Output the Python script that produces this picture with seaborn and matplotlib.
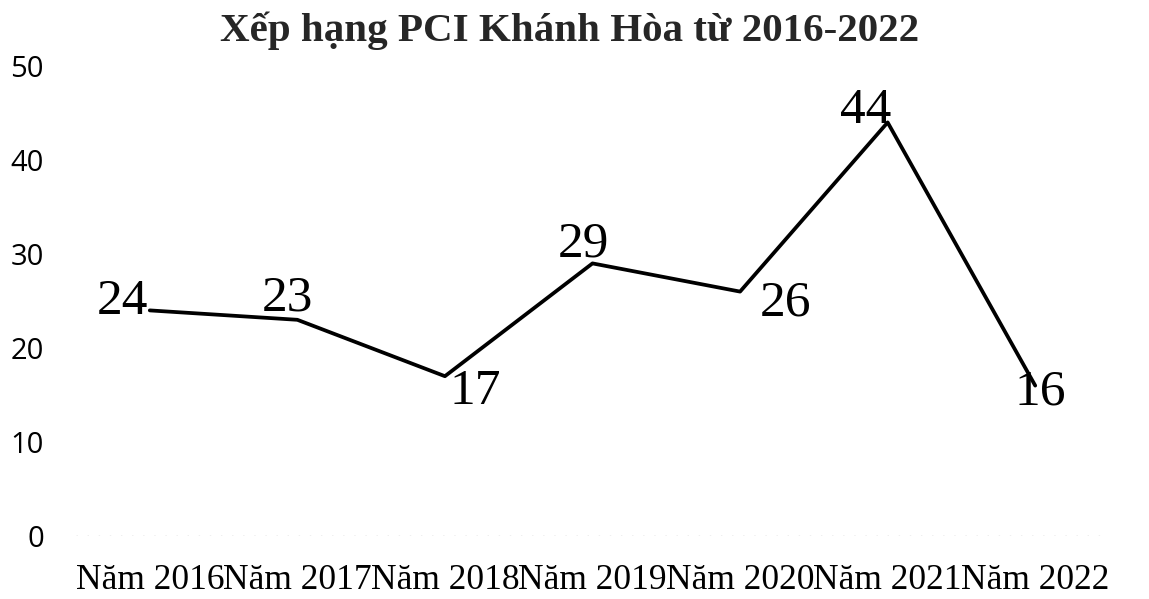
import matplotlib
matplotlib.use("Agg")
import matplotlib.pyplot as plt
import seaborn as sns
import pandas as pd

categories = ["Năm 2016", "Năm 2017", "Năm 2018", "Năm 2019", "Năm 2020", "Năm 2021", "Năm 2022"]
ranks = [24, 23, 17, 29, 26, 44, 16]
y_ticks = [0, 10, 20, 30, 40, 50]
title = "Xếp hạng PCI Khánh Hòa từ 2016-2022"

# label offsets in pixels (style only)
label_offsets = [(-2, 9), (-10, 22), (30, -16), (-9, 19), (45, -12), (-22, 12), (5, -7)]

sns.set_theme(style="white")
plt.rcParams['font.family'] = ['Liberation Serif', 'DejaVu Serif']

df = pd.DataFrame({"year": categories, "rank": ranks})

fig = plt.figure(figsize=(11.49, 5.99), dpi=100)
ax = fig.add_axes([76/1149, 1 - 536/599, (1109-76)/1149, (536-66)/599])

sns.lineplot(data=df, x="year", y="rank", ax=ax, color="black", linewidth=2.7, sort=False)

ax.set_ylim(0, 50)
ax.set_xlim(-0.5, len(categories) - 0.5)
ax.set_yticks(y_ticks)
ax.set_yticklabels([str(t) for t in y_ticks], fontfamily="Open Sans", fontsize=21, color="black")
ax.set_xticks(range(len(categories)))
ax.set_xticklabels(categories, fontfamily="Liberation Serif", fontsize=25.5, color="black")
ax.tick_params(axis="y", length=0, pad=23)
ax.tick_params(axis="x", length=0, pad=20)
ax.set_xlabel("")
ax.set_ylabel("")
for s in ax.spines.values():
    s.set_visible(False)
ax.axhline(0, color="#b0b0b0", linewidth=1, linestyle=(0, (1, 7)))

for i, (v, off) in enumerate(zip(ranks, label_offsets)):
    ax.annotate(str(v), (i, v), xytext=off, textcoords="offset pixels",
                ha="center", va="center", fontsize=37, fontfamily="Liberation Serif", color="black")
# first label right-aligned at point
ax.texts[0].set_horizontalalignment("right")

fig.text(570/1149, 1 - 31/599, title, ha="center", va="center",
         fontsize=29.5, fontweight="bold", fontfamily="Liberation Serif")

fig.savefig("out.png", dpi=100, facecolor="white")
